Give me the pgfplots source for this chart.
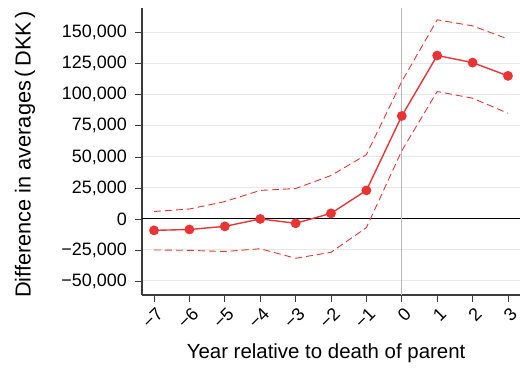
\documentclass[border=0pt]{standalone}
\usepackage{pgfplots}
\pgfplotsset{compat=1.18}
\usepackage{fontspec}
\setmainfont{Liberation Sans}
\definecolor{sred}{RGB}{232,52,52}
\definecolor{axgray}{RGB}{60,60,60}
\definecolor{gridgray}{RGB}{232,232,232}
\begin{document}
\begin{tikzpicture}[x=1bp,y=1bp]
\useasboundingbox (-142,-75) rectangle (378,295);
\begin{axis}[
  at={(0,0)}, anchor=south west,
  scale only axis, width=378bp, height=287bp,
  xmin=-7.34, xmax=3.34,
  ymin=-61300, ymax=170000,
  scaled y ticks=false, scaled x ticks=false,
  axis x line*=bottom, axis y line*=left,
  axis line style={axgray, line width=1.2pt},
  every tick/.style={axgray, line width=0.8pt},
  tick align=outside, major tick length=7bp,
  xtick={-7,-6,-5,-4,-3,-2,-1,0,1,2,3},
  xticklabels={−7,−6,−5,−4,−3,−2,−1,0,1,2,3},
  xticklabel style={rotate=45, anchor=north east, inner sep=2pt, yshift=-2bp, font=\fontsize{18}{20}\selectfont},
  ytick={-50000,-25000,0,25000,50000,75000,100000,125000,150000},
  yticklabels={−50{,}000,−25{,}000,0,25{,}000,50{,}000,75{,}000,100{,}000,125{,}000,150{,}000},
  yticklabel style={font=\fontsize{18}{20}\selectfont, inner sep=4bp, xshift=-4bp},
  ymajorgrids, grid style={gridgray, line width=1pt},
  xlabel={Year relative to death of parent},
  ylabel={Difference in averages\,(\,DKK\,)},
  xlabel style={font=\fontsize{20.5}{24}\selectfont, at={(rel axis cs:0.487,0)}, anchor=center, yshift=-58bp},
  ylabel style={font=\fontsize{21.8}{24}\selectfont, at={(rel axis cs:0,0.49)}, anchor=center, yshift=117bp},
  clip=false,
]
\addplot[black, line width=0.9pt, forget plot] coordinates {(-7.34,0) (3.34,0)};
\addplot[gray!55, line width=1pt, forget plot] coordinates {(0,-61300) (0,170000)};
\addplot[sred, line width=0.9pt, dash pattern=on 7pt off 4pt] coordinates {
(-7,6000) (-6,8000) (-5,14000) (-4,23000) (-3,24500) (-2,35000) (-1,51800) (0,110800) (1,160500) (2,155600) (3,145000)};
\addplot[sred, line width=0.9pt, dash pattern=on 7pt off 4pt] coordinates {
(-7,-25000) (-6,-25300) (-5,-26300) (-4,-24000) (-3,-31700) (-2,-26900) (-1,-7000) (0,55000) (1,102700) (2,97300) (3,85200)};
\addplot[sred, line width=1.4pt, mark=*, mark size=4.2pt, mark options={solid, fill=sred, draw=sred}] coordinates {
(-7,-9200) (-6,-8500) (-5,-6000) (-4,0) (-3,-3500) (-2,4500) (-1,23000) (0,83000) (1,131700) (2,126000) (3,115300)};
\end{axis}
\end{tikzpicture}
\end{document}
